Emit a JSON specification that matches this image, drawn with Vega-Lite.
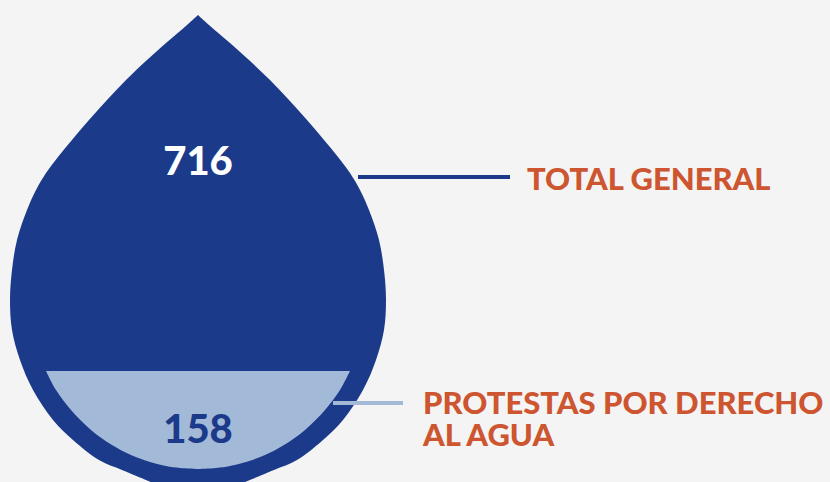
{
  "$schema": "https://vega.github.io/schema/vega-lite/v6.json",
  "width": 830,
  "height": 482,
  "autosize": {"type": "fit", "contains": "padding"},
  "padding": 0,
  "background": "#f4f4f4",
  "config": {"view": {"stroke": null}},
  "resolve": {"scale": {"color": "independent"}},
  "datasets": {
    "drop": [
      {"y": 15, "xl": 198, "xr": 198},
      {"y": 25, "xl": 187, "xr": 209},
      {"y": 43, "xl": 166, "xr": 230},
      {"y": 60, "xl": 147, "xr": 249},
      {"y": 80, "xl": 126, "xr": 270},
      {"y": 100, "xl": 107, "xr": 289},
      {"y": 120, "xl": 89, "xr": 307},
      {"y": 140, "xl": 72, "xr": 324},
      {"y": 157, "xl": 58, "xr": 338},
      {"y": 173, "xl": 46, "xr": 350},
      {"y": 190, "xl": 36, "xr": 360},
      {"y": 210, "xl": 27, "xr": 369},
      {"y": 240, "xl": 17, "xr": 379},
      {"y": 270, "xl": 12, "xr": 384},
      {"y": 300, "xl": 10, "xr": 386},
      {"y": 330, "xl": 12, "xr": 384},
      {"y": 360, "xl": 20, "xr": 376},
      {"y": 390, "xl": 33, "xr": 363},
      {"y": 420, "xl": 53, "xr": 343},
      {"y": 440, "xl": 73, "xr": 323},
      {"y": 460, "xl": 99, "xr": 297},
      {"y": 470, "xl": 122, "xr": 274},
      {"y": 482, "xl": 151, "xr": 245}
    ],
    "inner": [
      {"y": 371, "xl": 46, "xr": 350},
      {"y": 390, "xl": 56, "xr": 340},
      {"y": 410, "xl": 71, "xr": 325},
      {"y": 430, "xl": 91, "xr": 305},
      {"y": 445, "xl": 112, "xr": 284},
      {"y": 455, "xl": 131, "xr": 265},
      {"y": 462, "xl": 150, "xr": 246},
      {"y": 466, "xl": 166, "xr": 230},
      {"y": 468, "xl": 180, "xr": 216},
      {"y": 469, "xl": 198, "xr": 198}
    ],
    "lines": [
      {"x": 358, "x2": 510, "y": 177, "kind": "total"},
      {"x": 333, "x2": 403, "y": 403, "kind": "agua"}
    ],
    "numbers": [
      {"x": 198, "y": 163, "label": "716", "kind": "total"},
      {"x": 198, "y": 431, "label": "158", "kind": "agua"}
    ],
    "labels": [
      {"x": 527, "y": 190, "label": "TOTAL GENERAL"},
      {"x": 423, "y": 414, "label": "PROTESTAS POR DERECHO\nAL AGUA"}
    ]
  },
  "encoding": {},
  "layer": [
    {
      "data": {"name": "drop"},
      "mark": {"type": "area", "orient": "horizontal", "interpolate": "catmull-rom", "color": "#1b3a8a", "clip": true},
      "encoding": {
        "y": {"field": "y", "type": "quantitative", "scale": {"domain": [0, 482], "reverse": true, "nice": false, "zero": false}, "axis": null},
        "x": {"field": "xl", "type": "quantitative", "scale": {"domain": [0, 830], "nice": false, "zero": false}, "axis": null},
        "x2": {"field": "xr"}
      }
    },
    {
      "data": {"name": "inner"},
      "mark": {"type": "area", "orient": "horizontal", "interpolate": "catmull-rom", "color": "#a3b9d8"},
      "encoding": {
        "y": {"field": "y", "type": "quantitative"},
        "x": {"field": "xl", "type": "quantitative"},
        "x2": {"field": "xr"}
      }
    },
    {
      "data": {"name": "lines"},
      "mark": {"type": "rule", "strokeWidth": 4},
      "encoding": {
        "x": {"field": "x", "type": "quantitative"},
        "x2": {"field": "x2"},
        "y": {"field": "y", "type": "quantitative"},
        "color": {"field": "kind", "type": "nominal", "scale": {"domain": ["total", "agua"], "range": ["#1b3a8a", "#a3b9d8"]}, "legend": null}
      }
    },
    {
      "data": {"name": "numbers"},
      "mark": {"type": "text", "font": "Lato", "fontWeight": 900, "fontSize": 40, "align": "center", "baseline": "middle"},
      "encoding": {
        "x": {"field": "x", "type": "quantitative"},
        "y": {"field": "y", "type": "quantitative"},
        "text": {"field": "label"},
        "color": {"field": "kind", "type": "nominal", "scale": {"domain": ["total", "agua"], "range": ["#ffffff", "#1b3a8a"]}, "legend": null}
      }
    },
    {
      "data": {"name": "labels"},
      "mark": {"type": "text", "font": "Lato", "fontWeight": 900, "fontSize": 31, "align": "left", "baseline": "alphabetic", "lineBreak": "\n", "lineHeight": 32, "color": "#cd5530"},
      "encoding": {
        "x": {"field": "x", "type": "quantitative"},
        "y": {"field": "y", "type": "quantitative"},
        "text": {"field": "label"}
      }
    }
  ]
}
